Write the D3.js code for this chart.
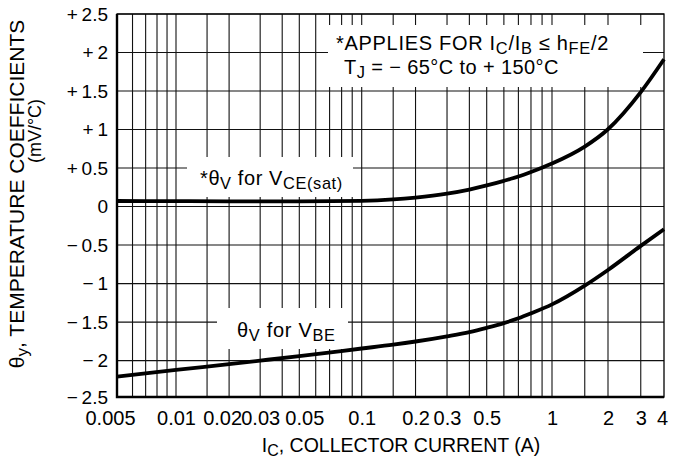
<!DOCTYPE html>
<html lang="en">
<head>
<meta charset="utf-8">
<title>Temperature coefficients</title>
<script src="https://d3js.org/d3.v7.min.js"></script>
<style>
  html, body { margin: 0; padding: 0; background: #fff; overflow: hidden; }
  svg { display: block; }
  text { font-family: "Liberation Sans", Arial, sans-serif; fill: #000; }
</style>
</head>
<body>
<svg></svg>
<script>

// data
const vceCurrent = [0.005, 0.01, 0.02, 0.05, 0.1, 0.15, 0.2, 0.3, 0.4, 0.5, 0.6, 0.7, 0.8, 1, 1.5, 2, 3, 4];
const vceTheta   = [0.072, 0.071, 0.068, 0.067, 0.074, 0.092, 0.117, 0.168, 0.221, 0.274, 0.334, 0.39, 0.449, 0.559, 0.779, 1.004, 1.486, 1.913];

const vbeCurrent = [0.005, 0.01, 0.02, 0.03, 0.05, 0.1, 0.15, 0.2, 0.3, 0.4, 0.5, 0.6, 0.7, 0.8, 1, 1.5, 2, 3, 4];
const vbeTheta   = [-2.219, -2.128, -2.048, -2.0, -1.942, -1.843, -1.793, -1.752, -1.684, -1.629, -1.574, -1.513,
                    -1.451, -1.387, -1.27, -1.026, -0.823, -0.51, -0.294];

const xTicks = [0.005, 0.01, 0.02, 0.03, 0.05, 0.1, 0.2, 0.3, 0.5, 1, 2, 3, 4];
const xGrid = [0.006, 0.007, 0.008, 0.009, 0.01, 0.015, 0.02, 0.03, 0.04, 0.05, 0.06, 0.07, 0.08, 0.09,
               0.1, 0.15, 0.2, 0.3, 0.4, 0.5, 0.6, 0.7, 0.8, 0.9, 1, 1.5, 2, 3];
const yTicks = [-2.5, -2, -1.5, -1, -0.5, 0, 0.5, 1, 1.5, 2, 2.5];
const yTickLabels = ["\u2212\u20092.5", "\u2212\u20092", "\u2212\u20091.5", "\u2212\u20091", "\u2212\u20090.5", "0",
                     "+\u20090.5", "+\u20091", "+\u20091.5", "+\u20092", "+\u20092.5"];

const w = 679;
const h = 464;
const margin = {top: 14, right: 15, bottom: 67, left: 117};
const innerWidth = w - margin.left - margin.right;
const innerHeight = h - margin.top - margin.bottom;
const fs = 20;

const svg = d3.select("svg")
    .attr("width", w)
    .attr("height", h);

// the printed grid is a little uneven, so both scales are matched piece by piece
const xScale = d3.scaleLog()
    .domain([0.005, 0.01, 0.05, 0.1, 0.5, 1, 4])
    .range([0, 59, 182.3, 244.7, 369.7, 435, innerWidth]);

const yScale = d3.scaleLinear()
    .domain([-2.5, -2, 2.5])
    .range([innerHeight, 346.6, 0]);

const plot = svg.append("g")
    .attr("transform", `translate(${margin.left}, ${margin.top})`);

// grid
plot.append("g")
    .attr("class", "xGrid")
  .selectAll("line")
  .data(xGrid)
  .enter().append("line")
    .attr("x1", d => xScale(d))
    .attr("x2", d => xScale(d))
    .attr("y1", 0)
    .attr("y2", innerHeight)
    .attr("stroke", "#111")
    .attr("stroke-width", 1.1);

plot.append("g")
    .attr("class", "yGrid")
  .selectAll("line")
  .data(yTicks)
  .enter().append("line")
    .attr("x1", 0)
    .attr("x2", innerWidth)
    .attr("y1", d => yScale(d))
    .attr("y2", d => yScale(d))
    .attr("stroke", "#111")
    .attr("stroke-width", 1.1);

// white boxes behind the labels
const boxes = [
  {x: 328 - margin.left, y: 25 - margin.top, w: 315, h: 62},
  {x: 187 - margin.left, y: 157 - margin.top, w: 166, h: 40},
  {x: 217 - margin.left, y: 308 - margin.top, w: 131, h: 41}
];
plot.selectAll("rect.box")
  .data(boxes)
  .enter().append("rect")
    .attr("class", "box")
    .attr("x", d => d.x)
    .attr("y", d => d.y)
    .attr("width", d => d.w)
    .attr("height", d => d.h)
    .attr("fill", "#fff");

// frame
plot.append("rect")
    .attr("width", innerWidth)
    .attr("height", innerHeight)
    .attr("fill", "none")
    .attr("stroke", "#000")
    .attr("stroke-width", 1.3);
plot.append("path")
    .attr("d", `M0,0V${innerHeight}H${innerWidth}`)
    .attr("fill", "none")
    .attr("stroke", "#000")
    .attr("stroke-width", 2.4);

// curves
const line = d3.line()
    .x(d => xScale(d[0]))
    .y(d => yScale(d[1]))
    .curve(d3.curveMonotoneX);

plot.append("path")
    .datum(d3.zip(vceCurrent, vceTheta))
    .attr("d", line)
    .attr("fill", "none")
    .attr("stroke", "#000")
    .attr("stroke-width", 3.8);

plot.append("path")
    .datum(d3.zip(vbeCurrent, vbeTheta))
    .attr("d", line)
    .attr("fill", "none")
    .attr("stroke", "#000")
    .attr("stroke-width", 3.8);

// axes (labels only, the grid does the ticks)
// a few printed labels are nudged sideways so they don't collide
const labelNudge = {0.005: -7, 0.02: -7, 0.05: 5, 4: -2};

const xAxis = d3.axisBottom(xScale)
    .tickValues(xTicks)
    .tickSize(0)
    .tickPadding(10)
    .tickFormat(d3.format("~g"));

const yAxis = d3.axisLeft(yScale)
    .tickValues(yTicks)
    .tickSize(0)
    .tickPadding(9)
    .tickFormat((d, i) => yTickLabels[i]);

plot.append("g")
    .attr("class", "xAxis")
    .attr("transform", `translate(0, ${innerHeight})`)
    .call(xAxis)
    .call(g => g.select(".domain").remove())
    .selectAll("text")
    .attr("font-size", fs)
    .attr("font-family", "Liberation Sans, Arial, sans-serif")
    .attr("dx", d => labelNudge[d] || 0)
    .attr("dy", "0.9em");

plot.append("g")
    .attr("class", "yAxis")
    .call(yAxis)
    .call(g => g.select(".domain").remove())
    .selectAll("text")
    .attr("font-size", 19)
    .attr("font-family", "Liberation Sans, Arial, sans-serif");

// text with sub scripts
function rich(sel, parts, size) {
  parts.forEach(p => {
    const t = sel.append("tspan").text(p[0]);
    if (p[1]) {
      t.attr("font-size", size * 0.82).attr("baseline-shift", "-22%");
    }
  });
  return sel;
}

const note1 = svg.append("text").attr("x", 336).attr("y", 50)
    .attr("font-size", fs).attr("letter-spacing", 0.7);
rich(note1, [["*APPLIES FOR I"], ["C", 1], ["/I"], ["B", 1], [" \u2264 h"], ["FE", 1], ["/2"]], fs);

const note2 = svg.append("text").attr("x", 344).attr("y", 74)
    .attr("font-size", fs).attr("letter-spacing", 0.4);
rich(note2, [["T"], ["J", 1], [" = \u2212 65\u00b0C to + 150\u00b0C"]], fs);

const lab1 = svg.append("text").attr("x", 200).attr("y", 185)
    .attr("font-size", fs).attr("letter-spacing", 0.6);
rich(lab1, [["*\u03b8"], ["V", 1], [" for V"], ["CE(sat)", 1]], fs);

const lab2 = svg.append("text").attr("x", 237).attr("y", 337)
    .attr("font-size", fs).attr("letter-spacing", 0.7);
rich(lab2, [["\u03b8"], ["V", 1], [" for V"], ["BE", 1]], fs);

// axis titles
const xTitle = svg.append("text")
    .attr("x", 401)
    .attr("y", 452)
    .attr("text-anchor", "middle")
    .attr("font-size", 19.5);
rich(xTitle, [["I"], ["C", 1], [", COLLECTOR CURRENT (A)"]], 19.5);

const yTitle = svg.append("text")
    .attr("transform", "translate(24, 194) rotate(-90)")
    .attr("text-anchor", "middle")
    .attr("font-size", 21);
rich(yTitle, [["\u03b8"], ["y", 1], [", TEMPERATURE COEFFICIENTS"]], 21);

svg.append("text")
    .attr("transform", "translate(41, 131) rotate(-90)")
    .attr("text-anchor", "middle")
    .attr("font-size", 18)
    .text("(mV/\u00b0C)");

</script>
</body>
</html>
